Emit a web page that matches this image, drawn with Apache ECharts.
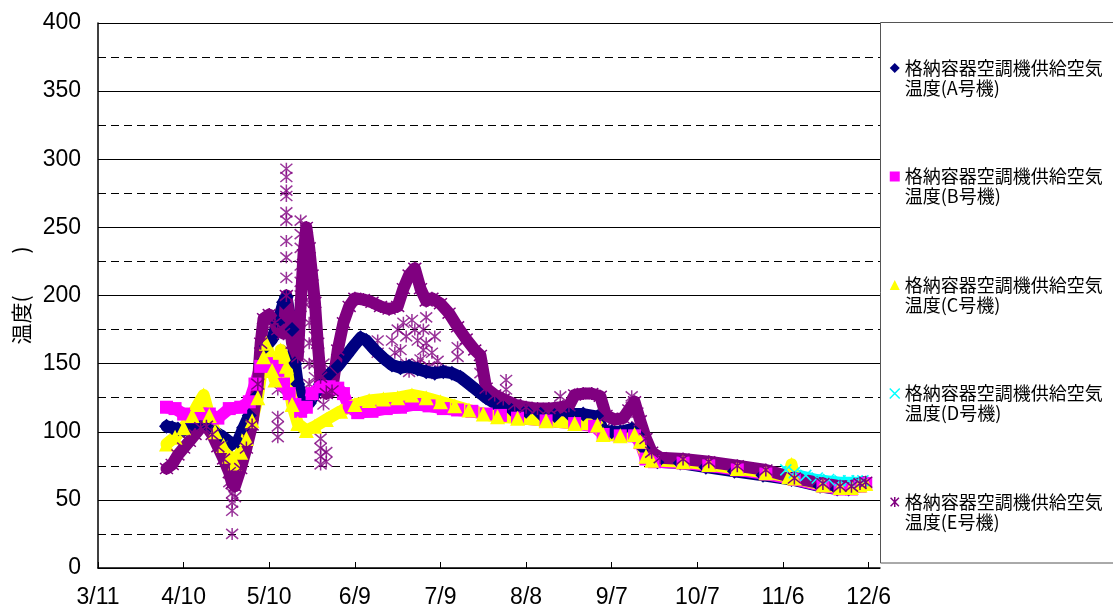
<!DOCTYPE html>
<html>
<head>
<meta charset="utf-8">
<script src="https://cdn.jsdelivr.net/npm/echarts@6/dist/echarts.min.js"></script>
<style>html,body{margin:0;padding:0;background:#fff}#c{width:1113px;height:613px}</style>
</head>
<body>
<div id="c"></div>
<script>
// ---- data (date "M/D" 2011, temperature) ----
const seriesNames = [
  '格納容器空調機供給空気温度(A号機)',
  '格納容器空調機供給空気温度(B号機)',
  '格納容器空調機供給空気温度(C号機)',
  '格納容器空調機供給空気温度(D号機)',
  '格納容器空調機供給空気温度(E号機)'
];
const dataA = [['4/4',104],['4/6',103],['4/8',102],['4/10',101],['4/12',104],['4/15',106],['4/18',105],['4/21',100],['4/24',96],['4/27',91],['4/29',93],['5/1',103],['5/3',112],['5/5',125],['5/7',150],['5/9',163],['5/11',168],['5/13',180],['5/15',195],['5/16',199],['5/18',175],['5/19',150],['5/20',135],['5/22',122],['5/24',121],['5/26',128],['5/28',135],['5/31',142],['6/3',148],['6/6',156],['6/9',164],['6/11',169],['6/13',167],['6/16',160],['6/19',154],['6/22',149],['6/25',147],['6/28',148],['7/1',146],['7/4',144],['7/7',143],['7/10',144],['7/13',143],['7/16',140],['7/19',135],['7/22',130],['7/25',125],['7/28',121],['7/31',118],['8/3',116],['8/8',115],['8/13',113],['8/18',112],['8/23',113],['8/28',113],['9/2',111],['9/4',101],['9/7',100],['9/10',100],['9/14',102],['9/16',98],['9/18',88],['9/20',80],['9/23',78],['10/1',77],['10/10',74],['10/20',71],['10/30',68],['11/9',65],['11/19',60],['11/25',58],['11/29',58],['12/2',60],['12/4',62]];
const dataB = [['4/4',118],['4/7',117],['4/10',113],['4/13',111],['4/16',113],['4/19',113],['4/22',110],['4/26',117],['4/30',118],['5/3',122],['5/5',135],['5/7',148],['5/9',150],['5/11',148],['5/13',145],['5/15',135],['5/17',128],['5/19',120],['5/21',115],['5/23',118],['5/25',128],['5/28',133],['5/31',133],['6/3',132],['6/5',128],['6/7',118],['6/10',114],['6/15',115],['6/20',117],['6/25',118],['6/30',120],['7/5',119],['7/10',117],['7/15',116],['7/20',115],['7/25',113],['7/30',112],['8/5',110],['8/15',108],['8/25',106],['9/1',104],['9/4',98],['9/10',97],['9/15',97],['9/17',92],['9/19',80],['9/22',78],['10/2',77],['10/11',75],['10/21',72],['10/31',69],['11/10',65],['11/20',60],['11/26',58],['11/30',58],['12/3',60],['12/5',62]];
const dataC = [['4/4',91],['4/7',96],['4/10',103],['4/13',112],['4/15',120],['4/17',127],['4/19',112],['4/21',100],['4/24',90],['4/26',82],['4/28',77],['4/30',85],['5/2',95],['5/4',108],['5/6',125],['5/8',155],['5/9',165],['5/11',145],['5/12',138],['5/14',160],['5/16',148],['5/18',120],['5/20',106],['5/23',101],['5/26',104],['5/30',109],['6/4',115],['6/9',120],['6/14',123],['6/19',124],['6/24',125],['6/29',127],['7/4',125],['7/9',122],['7/14',119],['7/19',116],['7/24',113],['7/29',111],['8/5',110],['8/15',108],['8/25',106],['9/2',105],['9/4',98],['9/10',97],['9/15',98],['9/17',93],['9/19',82],['9/21',79],['10/2',78],['10/11',76],['10/21',73],['10/31',70],['11/8',67],['11/9',76],['11/10',66],['11/20',61],['11/26',59],['11/30',59],['12/3',61],['12/5',62]];
const dataD = [['11/7',72],['11/10',70],['11/14',68],['11/18',66],['11/22',65],['11/26',64],['11/29',64],['12/2',64],['12/4',64]];
const dataE = [['4/4',73],['4/6',76],['4/8',83],['4/10',88],['4/12',93],['4/14',98],['4/16',103],['4/18',104],['4/20',98],['4/22',89],['4/24',80],['4/26',70],['4/27',62],['4/28',60],['4/30',73],['5/2',88],['5/4',105],['5/6',135],['5/7',165],['5/8',183],['5/10',186],['5/12',180],['5/13',175],['5/15',172],['5/16',200],['5/18',165],['5/20',155],['5/22',230],['5/23',250],['5/24',235],['5/25',215],['5/26',195],['5/27',165],['5/28',140],['5/30',128],['6/1',130],['6/3',160],['6/5',180],['6/7',192],['6/9',198],['6/12',197],['6/15',195],['6/18',192],['6/21',190],['6/24',192],['6/26',205],['6/28',215],['6/30',220],['7/2',205],['7/4',196],['7/6',198],['7/9',194],['7/12',187],['7/15',177],['7/18',168],['7/21',160],['7/23',156],['7/25',132],['7/28',127],['7/31',124],['8/4',120],['8/8',118],['8/12',117],['8/16',117],['8/20',118],['8/23',119],['8/25',127],['8/28',128],['8/31',128],['9/3',126],['9/5',112],['9/8',109],['9/11',110],['9/13',116],['9/15',122],['9/17',108],['9/19',95],['9/21',85],['9/24',81],['10/2',80],['10/11',78],['10/21',75],['10/31',72],['11/10',66],['11/20',62],['11/26',60],['11/30',60],['12/3',62],['12/5',63]];
const dataEScatter = [['4/26',63],['4/27',55],['4/27',48],['4/27',42],['4/27',25],['4/28',66],['4/28',52],
  ['5/13',145],['5/13',138],['5/13',131],['5/13',111],['5/13',104],['5/13',96],
  ['5/16',293],['5/16',287],['5/16',277],['5/16',273],['5/16',261],['5/16',255],['5/16',240],['5/16',228],['5/16',213],
  ['5/17',185],['5/17',175],['5/17',160],['5/17',150],
  ['5/21',255],['5/21',245],['5/21',235],['5/21',222],['5/21',210],['5/21',200],['5/21',185],['5/22',212],['5/22',195],
  ['5/24',225],['5/24',210],['5/24',195],['5/24',180],['5/24',165],['5/24',150],['5/24',135],
  ['5/26',170],['5/26',150],['5/26',140],['5/26',125],
  ['5/28',95],['5/28',88],['5/28',82],['5/28',76],['5/29',150],['5/29',120],['5/30',85],['5/30',78],
  ['6/17',167],['6/17',158],['6/22',167],['6/23',158],['6/24',175],['6/25',160],['6/26',180],['6/27',170],['6/27',150],['6/28',144],['6/29',182],['6/30',175],
  ['7/1',167],['7/1',150],['7/2',153],['7/3',160],['7/3',175],['7/4',184],['7/4',165],['7/5',148],['7/6',143],['7/6',158],['7/7',170],['7/8',152],['7/9',145],
  ['7/15',162],['7/15',155],['7/23',143],['8/1',138],['8/1',131],['8/20',126],['9/14',126],['9/14',118],['9/16',114],['9/16',104]];
const yTicks = {min: 0, max: 400, interval: 50};
const xDays = {min: 0, max: 274, interval: 30};

// ---- helpers ----
const BASE = Date.UTC(2011, 2, 11);
function dayOf(md) { const p = md.split('/').map(Number); return (Date.UTC(2011, p[0] - 1, p[1]) - BASE) / 86400000; }
function pts(arr) { return arr.map(function (r) { return [dayOf(r[0]), r[1]]; }); }
function dayLabel(v) { const d = new Date(BASE + v * 86400000); return (d.getUTCMonth() + 1) + '/' + d.getUTCDate(); }

const XP = 'path://M0,0L10,10M10,0L0,10';
const AST = 'path://M0,0L10,10M10,0L0,10M5,-1L5,11';
const colors = ['#000080', '#FF00FF', '#FFFF00', '#00FFFF', '#800080'];

function lineSeries(i, data, symbol, size, width, extraItem) {
  return {
    type: 'line', name: seriesNames[i], data: pts(data), symbol: symbol, symbolSize: size,
    showAllSymbol: true, silent: true, animation: false,
    lineStyle: {color: colors[i], width: width, cap: 'round', join: 'round'},
    itemStyle: Object.assign({color: colors[i], borderWidth: 0}, extraItem || {}),
    emphasis: {disabled: true}
  };
}

const chart = echarts.init(document.getElementById('c'), null, {renderer: 'canvas'});
chart.setOption({
  animation: false,
  backgroundColor: '#fff',
  grid: {left: 98, right: 233, top: 23, bottom: 45, containLabel: false},
  graphic: [{type: 'rect', z: 0, shape: {x: 880.5, y: 22.5, width: 240, height: 540.5}, style: {fill: '#fff', stroke: '#555', lineWidth: 1}}],
  legend: {
    orient: 'vertical', left: 889, top: 38, padding: 0, itemGap: 48.5, itemWidth: 10, itemHeight: 10,
    selectedMode: false, z: 5,
    textStyle: {fontFamily: 'Noto Sans CJK JP', fontSize: 18, lineHeight: 20, color: '#000'},
    formatter: function (n) { return '\n' + n.slice(0, 11) + '\n' + n.slice(11); },
    data: [
      {name: seriesNames[0], icon: 'diamond', itemStyle: {color: colors[0], borderWidth: 0}},
      {name: seriesNames[1], icon: 'rect', itemStyle: {color: colors[1], borderWidth: 0}},
      {name: seriesNames[2], icon: 'triangle', itemStyle: {color: colors[2], borderWidth: 0}},
      {name: seriesNames[3], icon: XP, itemStyle: {color: colors[3], borderColor: colors[3], borderWidth: 1.5}},
      {name: seriesNames[4], icon: AST, itemStyle: {color: colors[4], borderColor: colors[4], borderWidth: 1.5}}
    ]
  },
  xAxis: {
    type: 'value', min: xDays.min, max: xDays.max, interval: xDays.interval,
    axisLine: {show: true, lineStyle: {color: '#000', width: 1.5}},
    axisTick: {show: true, inside: true, length: 6, lineStyle: {color: '#000'}},
    splitLine: {show: false},
    axisLabel: {showMaxLabel: false, margin: 18, fontSize: 23, fontFamily: 'Liberation Sans', color: '#000',
      formatter: function (v) { return v % 30 === 0 ? dayLabel(v) : ''; }}
  },
  yAxis: {
    type: 'value', min: yTicks.min, max: yTicks.max, interval: yTicks.interval,
    name: '温度(　　)', nameLocation: 'middle', nameGap: 66,
    nameTextStyle: {fontFamily: 'Noto Sans CJK JP', fontSize: 21, color: '#000'},
    axisLine: {show: true, lineStyle: {color: '#000', width: 1.5}},
    axisTick: {show: true, inside: true, length: 6, lineStyle: {color: '#000'}},
    axisLabel: {margin: 17, fontSize: 23, fontFamily: 'Liberation Sans', color: '#000'},
    splitLine: {show: true, lineStyle: {color: '#000', width: 1}},
    minorTick: {show: false, splitNumber: 2},
    minorSplitLine: {show: true, lineStyle: {color: '#000', width: 1, type: [8, 5]}}
  },
  series: [
    lineSeries(0, dataA, 'diamond', 15, 12),
    lineSeries(1, dataB, 'rect', 13, 12),
    lineSeries(2, dataC, 'triangle', 15, 12),
    lineSeries(3, dataD, XP, 11, 8, {borderColor: colors[3], borderWidth: 1.5}),
    lineSeries(4, dataE, AST, 13, 12, {borderColor: colors[4], borderWidth: 1.5}),
    {
      type: 'scatter', name: seriesNames[4], data: pts(dataEScatter), symbol: AST, symbolSize: 12,
      silent: true, animation: false,
      itemStyle: {color: colors[4], borderColor: colors[4], borderWidth: 1.5},
      emphasis: {disabled: true}
    }
  ]
});
</script>
</body>
</html>
